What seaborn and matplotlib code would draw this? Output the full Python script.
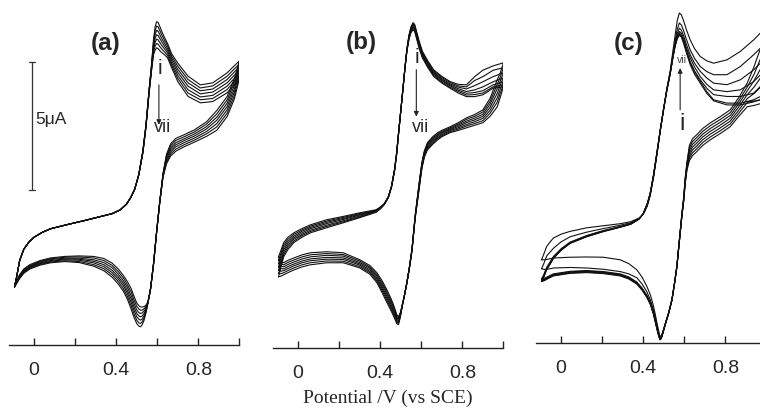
import numpy as np
import pandas as pd
import matplotlib
matplotlib.use("Agg")
import matplotlib.pyplot as plt
import seaborn as sns

sns.set_theme(style="white")
plt.rcParams['font.family'] = ['Liberation Sans', 'DejaVu Sans']

# cycle names, i -> vii (columns of every current table below)
cycles = ["i", "ii", "iii", "iv", "v", "vi", "vii"]

# ================= panel (a) : potential (V vs SCE) / current (uA) =================
a_fwd_E = [-0.095, -0.085, -0.07, -0.05, -0.025, 0.00, 0.04, 0.08, 0.16, 0.24, 0.32, 0.38,
           0.42, 0.45, 0.47, 0.49, 0.51, 0.53, 0.545, 0.56, 0.572, 0.582, 0.59, 0.597,
           0.604, 0.612, 0.622, 0.635, 0.65, 0.67, 0.70, 0.75, 0.81, 0.87, 0.94, 1.00]
a_fwd_I = [
    [-2.23] * 7, [-1.85] * 7, [-1.20] * 7, [-0.76] * 7, [-0.48] * 7, [-0.29] * 7,
    [-0.10] * 7, [0.04] * 7, [0.20] * 7, [0.35] * 7, [0.51] * 7, [0.63] * 7,
    [0.78] * 7, [1.00] * 7, [1.25] * 7, [1.58] * 7, [2.15] * 7,
    [3.10, 3.08, 3.07, 3.05, 3.03, 3.02, 3.00],
    [4.10, 4.08, 4.07, 4.05, 4.03, 4.02, 4.00],
    [5.45, 5.43, 5.41, 5.39, 5.36, 5.34, 5.32],
    [6.45, 6.41, 6.37, 6.33, 6.29, 6.25, 6.20],
    [7.45, 7.35, 7.25, 7.15, 7.05, 6.95, 6.85],
    [7.95, 7.80, 7.64, 7.49, 7.33, 7.18, 7.02],
    [8.13, 7.96, 7.79, 7.62, 7.45, 7.28, 7.11],
    [8.10, 7.93, 7.76, 7.59, 7.42, 7.25, 7.08],
    [7.95, 7.79, 7.63, 7.48, 7.32, 7.16, 7.00],
    [7.75, 7.61, 7.47, 7.34, 7.20, 7.06, 6.92],
    [7.52, 7.41, 7.29, 7.18, 7.07, 6.95, 6.84],
    [7.28, 7.19, 7.09, 7.00, 6.91, 6.81, 6.72],
    [6.88, 6.79, 6.70, 6.61, 6.51, 6.42, 6.33],
    [6.51, 6.39, 6.27, 6.15, 6.03, 5.91, 5.79],
    [6.00, 5.87, 5.74, 5.61, 5.47, 5.34, 5.21],
    [5.66, 5.54, 5.43, 5.31, 5.19, 5.08, 4.96],
    [5.74, 5.62, 5.50, 5.38, 5.25, 5.13, 5.01],
    [6.13, 6.00, 5.87, 5.74, 5.61, 5.48, 5.35],
    [6.60, 6.48, 6.37, 6.25, 6.13, 6.02, 5.90],
]
a_rev_E = [1.00, 0.975, 0.94, 0.89, 0.84, 0.78, 0.73, 0.69, 0.665, 0.645, 0.628, 0.612,
           0.597, 0.582, 0.567, 0.555, 0.545, 0.535, 0.526, 0.518, 0.51, 0.50, 0.488,
           0.473, 0.455, 0.435, 0.41, 0.38, 0.34, 0.29, 0.22, 0.15, 0.08, 0.03, -0.02,
           -0.05, -0.07, -0.085, -0.095]
a_rev_I = [
    [6.60, 6.48, 6.37, 6.25, 6.13, 6.02, 5.90],
    [5.90, 5.77, 5.63, 5.50, 5.37, 5.23, 5.10],
    [5.20, 5.07, 4.94, 4.81, 4.68, 4.55, 4.42],
    [4.66, 4.53, 4.40, 4.28, 4.15, 4.02, 3.89],
    [4.22, 4.13, 4.03, 3.94, 3.84, 3.75, 3.65],
    [3.90, 3.82, 3.74, 3.66, 3.58, 3.50, 3.42],
    [3.71, 3.63, 3.55, 3.48, 3.40, 3.32, 3.24],
    [3.57, 3.49, 3.40, 3.32, 3.24, 3.15, 3.07],
    [3.36, 3.28, 3.20, 3.12, 3.04, 2.96, 2.88],
    [2.95, 2.89, 2.83, 2.77, 2.70, 2.64, 2.58],
    [2.20, 2.18, 2.15, 2.13, 2.10, 2.08, 2.05],
    [1.10, 1.09, 1.08, 1.08, 1.07, 1.06, 1.05],
    [-0.05, -0.06, -0.07, -0.08, -0.08, -0.09, -0.10],
    [-1.30, -1.31, -1.32, -1.33, -1.33, -1.34, -1.35],
    [-2.30, -2.31, -2.32, -2.33, -2.33, -2.34, -2.35],
    [-2.85, -2.84, -2.83, -2.83, -2.82, -2.81, -2.80],
    [-3.25, -3.20, -3.15, -3.10, -3.05, -3.00, -2.95],
    [-3.55, -3.46, -3.37, -3.28, -3.18, -3.09, -3.00],
    [-3.72, -3.60, -3.49, -3.37, -3.25, -3.14, -3.02],
    [-3.79, -3.66, -3.53, -3.40, -3.27, -3.14, -3.01],
    [-3.76, -3.63, -3.49, -3.36, -3.23, -3.09, -2.96],
    [-3.66, -3.53, -3.39, -3.26, -3.13, -2.99, -2.86],
    [-3.45, -3.31, -3.17, -3.04, -2.90, -2.76, -2.62],
    [-3.10, -2.97, -2.83, -2.70, -2.57, -2.43, -2.30],
    [-2.72, -2.61, -2.49, -2.38, -2.26, -2.15, -2.03],
    [-2.40, -2.30, -2.19, -2.09, -1.99, -1.88, -1.78],
    [-2.12, -2.02, -1.92, -1.83, -1.73, -1.63, -1.53],
    [-1.85, -1.76, -1.67, -1.58, -1.48, -1.39, -1.30],
    [-1.60, -1.52, -1.44, -1.36, -1.28, -1.20, -1.12],
    [-1.42, -1.36, -1.29, -1.23, -1.17, -1.10, -1.04],
    [-1.28, -1.24, -1.19, -1.15, -1.11, -1.06, -1.02],
    [-1.24, -1.21, -1.17, -1.14, -1.11, -1.07, -1.04],
    [-1.29, -1.26, -1.23, -1.20, -1.16, -1.13, -1.10],
    [-1.38, -1.35, -1.32, -1.29, -1.26, -1.23, -1.20],
    [-1.53, -1.50, -1.47, -1.45, -1.42, -1.39, -1.36],
    [-1.70, -1.67, -1.64, -1.62, -1.59, -1.56, -1.53],
    [-1.90, -1.88, -1.85, -1.83, -1.80, -1.78, -1.75],
    [-2.10, -2.08, -2.07, -2.05, -2.03, -2.02, -2.00],
    [-2.23] * 7,
]

# ================= panel (b) =================
b_fwd_E = [-0.095, -0.085, -0.07, -0.05, -0.02, 0.02, 0.06, 0.14, 0.22, 0.30, 0.38, 0.40,
           0.42, 0.44, 0.455, 0.47, 0.48, 0.49, 0.50, 0.51, 0.52, 0.53, 0.54, 0.55, 0.56,
           0.568, 0.578, 0.59, 0.605, 0.63, 0.66, 0.70, 0.74, 0.78, 0.82, 0.86, 0.90, 0.95, 1.00]
b_fwd_I = [
    [-1.72, -1.59, -1.46, -1.33, -1.20, -1.07, -0.94],
    [-1.40, -1.29, -1.17, -1.06, -0.95, -0.83, -0.72],
    [-0.94, -0.85, -0.76, -0.67, -0.57, -0.48, -0.39],
    [-0.66, -0.58, -0.50, -0.42, -0.34, -0.26, -0.18],
    [-0.38, -0.32, -0.25, -0.19, -0.13, -0.06, 0.00],
    [-0.17, -0.11, -0.06, 0.00, 0.06, 0.11, 0.17],
    [0.00, 0.05, 0.10, 0.16, 0.21, 0.26, 0.31],
    [0.20, 0.25, 0.30, 0.36, 0.41, 0.46, 0.51],
    [0.39, 0.43, 0.47, 0.52, 0.56, 0.60, 0.64],
    [0.59, 0.62, 0.65, 0.69, 0.72, 0.75, 0.78],
    [0.80, 0.82, 0.83, 0.85, 0.87, 0.88, 0.90],
    [0.93, 0.94, 0.95, 0.97, 0.98, 0.99, 1.00],
    [1.10, 1.11, 1.11, 1.12, 1.13, 1.13, 1.14],
    [1.38, 1.39, 1.39, 1.40, 1.41, 1.41, 1.42],
    [1.78, 1.79, 1.79, 1.80, 1.81, 1.81, 1.82],
    [2.42, 2.43, 2.44, 2.45, 2.46, 2.47, 2.48],
    [3.05, 3.06, 3.07, 3.09, 3.10, 3.11, 3.12],
    [3.90, 3.91, 3.92, 3.93, 3.94, 3.95, 3.96],
    [4.72, 4.73, 4.73, 4.74, 4.75, 4.75, 4.76],
    [5.55] * 7,
    [6.42, 6.41, 6.40, 6.39, 6.38, 6.37, 6.36],
    [7.18, 7.16, 7.15, 7.13, 7.11, 7.10, 7.08],
    [7.72, 7.69, 7.66, 7.64, 7.61, 7.58, 7.55],
    [8.05, 8.01, 7.97, 7.94, 7.90, 7.86, 7.82],
    [8.21, 8.16, 8.12, 8.07, 8.02, 7.98, 7.93],
    [8.14, 8.09, 8.05, 8.00, 7.95, 7.91, 7.86],
    [7.84, 7.79, 7.75, 7.70, 7.65, 7.61, 7.56],
    [7.48, 7.43, 7.39, 7.34, 7.29, 7.25, 7.20],
    [7.10, 7.06, 7.01, 6.97, 6.93, 6.88, 6.84],
    [6.74, 6.70, 6.65, 6.61, 6.57, 6.52, 6.48],
    [6.37, 6.33, 6.28, 6.24, 6.20, 6.15, 6.11],
    [6.11, 6.07, 6.02, 5.98, 5.94, 5.89, 5.85],
    [5.91, 5.87, 5.82, 5.78, 5.74, 5.69, 5.65],
    [5.80, 5.74, 5.69, 5.63, 5.57, 5.52, 5.46],
    [5.78, 5.70, 5.62, 5.52, 5.45, 5.38, 5.32],
    [6.10, 5.95, 5.75, 5.58, 5.48, 5.40, 5.32],
    [6.35, 6.10, 5.90, 5.70, 5.55, 5.46, 5.39],
    [6.52, 6.35, 6.10, 5.90, 5.78, 5.70, 5.65],
    [6.64, 6.45, 6.25, 6.05, 5.90, 5.78, 5.70],
]
b_rev_E = [1.00, 0.985, 0.97, 0.935, 0.90, 0.86, 0.82, 0.78, 0.74, 0.70, 0.68, 0.655,
           0.63, 0.615, 0.603, 0.592, 0.582, 0.57, 0.555, 0.542, 0.53, 0.518, 0.507,
           0.498, 0.489, 0.481, 0.472, 0.462, 0.45, 0.433, 0.41, 0.384, 0.35, 0.30, 0.22,
           0.14, 0.06, 0.02, -0.02, -0.05, -0.07, -0.085, -0.095]
b_rev_I = [
    [6.64, 6.45, 6.25, 6.05, 5.90, 5.78, 5.70],
    [6.25, 6.09, 5.93, 5.78, 5.62, 5.46, 5.30],
    [5.98, 5.80, 5.63, 5.45, 5.27, 5.10, 4.92],
    [5.25, 5.13, 5.02, 4.90, 4.78, 4.67, 4.55],
    [4.80, 4.72, 4.63, 4.55, 4.47, 4.38, 4.30],
    [4.62, 4.55, 4.48, 4.41, 4.34, 4.27, 4.20],
    [4.49, 4.43, 4.36, 4.30, 4.23, 4.17, 4.10],
    [4.30, 4.25, 4.20, 4.15, 4.10, 4.05, 4.00],
    [4.14, 4.10, 4.06, 4.03, 3.99, 3.95, 3.91],
    [4.00, 3.96, 3.92, 3.88, 3.83, 3.79, 3.75],
    [3.91, 3.86, 3.82, 3.77, 3.72, 3.68, 3.63],
    [3.75, 3.70, 3.65, 3.60, 3.55, 3.50, 3.45],
    [3.52, 3.47, 3.43, 3.38, 3.33, 3.29, 3.24],
    [3.20, 3.16, 3.12, 3.08, 3.03, 2.99, 2.95],
    [2.75, 2.71, 2.67, 2.63, 2.58, 2.54, 2.50],
    [2.10, 2.06, 2.02, 1.98, 1.93, 1.89, 1.85],
    [1.45, 1.42, 1.38, 1.35, 1.32, 1.28, 1.25],
    [0.65, 0.63, 0.62, 0.60, 0.58, 0.57, 0.55],
    [-0.62, -0.63, -0.65, -0.66, -0.67, -0.69, -0.70],
    [-1.35, -1.36, -1.37, -1.38, -1.38, -1.39, -1.40],
    [-1.93, -1.94, -1.94, -1.95, -1.96, -1.96, -1.97],
    [-2.45] * 7,
    [-2.88, -2.87, -2.87, -2.86, -2.85, -2.85, -2.84],
    [-3.30, -3.27, -3.24, -3.21, -3.18, -3.15, -3.12],
    [-3.59, -3.54, -3.49, -3.44, -3.38, -3.33, -3.28],
    [-3.55, -3.49, -3.43, -3.38, -3.32, -3.26, -3.20],
    [-3.38, -3.31, -3.25, -3.18, -3.11, -3.05, -2.98],
    [-3.20, -3.13, -3.05, -2.98, -2.90, -2.83, -2.75],
    [-3.00, -2.92, -2.84, -2.76, -2.68, -2.60, -2.52],
    [-2.73, -2.65, -2.56, -2.48, -2.40, -2.31, -2.23],
    [-2.35, -2.27, -2.19, -2.12, -2.04, -1.96, -1.88],
    [-1.95, -1.89, -1.82, -1.76, -1.69, -1.63, -1.56],
    [-1.62, -1.56, -1.51, -1.45, -1.39, -1.34, -1.28],
    [-1.37, -1.32, -1.26, -1.21, -1.16, -1.10, -1.05],
    [-1.17, -1.11, -1.04, -0.98, -0.91, -0.85, -0.78],
    [-1.17, -1.10, -1.03, -0.96, -0.88, -0.81, -0.74],
    [-1.25, -1.17, -1.09, -1.02, -0.94, -0.86, -0.78],
    [-1.33, -1.25, -1.17, -1.10, -1.02, -0.94, -0.86],
    [-1.45, -1.37, -1.29, -1.22, -1.14, -1.06, -0.98],
    [-1.56, -1.48, -1.40, -1.32, -1.24, -1.16, -1.08],
    [-1.64, -1.56, -1.48, -1.41, -1.33, -1.25, -1.17],
    [-1.70, -1.60, -1.50, -1.40, -1.30, -1.20, -1.10],
    [-1.72, -1.59, -1.46, -1.33, -1.20, -1.07, -0.94],
]

# ================= panel (c) =================
c_fwd_E = [-0.095, -0.085, -0.07, -0.05, -0.037, 0.00, 0.044, 0.125, 0.206, 0.288, 0.34,
           0.38, 0.40, 0.42, 0.434, 0.45, 0.467, 0.483, 0.499, 0.515, 0.532, 0.545, 0.556,
           0.566, 0.576, 0.586, 0.597, 0.61, 0.629, 0.65, 0.678, 0.71, 0.743, 0.808, 0.873,
           0.938, 0.971, 1.00]
c_fwd_I = [
    [-2.10, -2.08, -2.06, -2.03, -2.00, -1.60, -1.25],
    [-1.95, -1.93, -1.91, -1.88, -1.85, -1.42, -1.05],
    [-1.64, -1.62, -1.60, -1.58, -1.55, -1.10, -0.73],
    [-1.38, -1.36, -1.34, -1.32, -1.29, -0.92, -0.52],
    [-1.20, -1.18, -1.17, -1.15, -1.12, -0.80, -0.40],
    [-0.88, -0.87, -0.86, -0.84, -0.82, -0.55, -0.25],
    [-0.61, -0.60, -0.59, -0.58, -0.56, -0.35, -0.14],
    [-0.35, -0.34, -0.33, -0.32, -0.30, -0.17, 0.00],
    [-0.15, -0.14, -0.13, -0.12, -0.11, -0.03, 0.08],
    [0.02, 0.03, 0.03, 0.04, 0.05, 0.10, 0.16],
    [0.14, 0.15, 0.15, 0.16, 0.16, 0.20, 0.24],
    [0.34, 0.34, 0.35, 0.35, 0.36, 0.37, 0.38],
    [0.55, 0.55, 0.55, 0.55, 0.54, 0.53, 0.52],
    [0.95, 0.94, 0.93, 0.92, 0.90, 0.88, 0.85],
    [1.35, 1.34, 1.33, 1.32, 1.30, 1.28, 1.25],
    [2.05, 2.04, 2.03, 2.02, 2.00, 1.98, 1.95],
    [2.95, 2.94, 2.93, 2.92, 2.90, 2.88, 2.85],
    [3.80] * 7,
    [4.60, 4.61, 4.61, 4.62, 4.62, 4.62, 4.62],
    [5.35, 5.36, 5.37, 5.38, 5.39, 5.40, 5.42],
    [6.03, 6.04, 6.05, 6.06, 6.08, 6.10, 6.15],
    [6.65, 6.67, 6.69, 6.71, 6.74, 6.80, 6.92],
    [7.10, 7.13, 7.16, 7.19, 7.24, 7.33, 7.55],
    [7.38, 7.42, 7.46, 7.51, 7.60, 7.76, 8.10],
    [7.52, 7.56, 7.61, 7.67, 7.80, 8.00, 8.39],
    [7.45, 7.49, 7.53, 7.60, 7.72, 7.92, 8.32],
    [7.20, 7.25, 7.30, 7.38, 7.50, 7.70, 8.08],
    [6.85, 6.90, 6.95, 7.04, 7.17, 7.37, 7.75],
    [6.37, 6.45, 6.48, 6.64, 6.76, 6.95, 7.34],
    [6.00, 6.08, 6.13, 6.28, 6.43, 6.62, 7.00],
    [5.65, 5.72, 5.78, 5.91, 6.11, 6.30, 6.69],
    [5.25, 5.32, 5.45, 5.60, 5.85, 6.10, 6.52],
    [4.96, 5.00, 5.20, 5.39, 5.65, 5.98, 6.43],
    [4.80, 4.87, 5.13, 5.32, 5.59, 5.98, 6.56],
    [4.80, 4.87, 5.13, 5.39, 5.78, 6.30, 6.89],
    [4.92, 5.00, 5.26, 5.71, 6.17, 6.76, 7.34],
    [5.00, 5.13, 5.52, 5.98, 6.43, 7.02, 7.61],
    [5.10, 5.30, 5.75, 6.20, 6.65, 7.25, 7.85],
]
c_rev_E = [1.00, 0.985, 0.971, 0.94, 0.907, 0.865, 0.824, 0.775, 0.727, 0.69, 0.66, 0.64,
           0.625, 0.613, 0.605, 0.597, 0.588, 0.58, 0.572, 0.564, 0.552, 0.54, 0.525,
           0.507, 0.495, 0.488, 0.482, 0.476, 0.468, 0.458, 0.45, 0.435, 0.418, 0.395,
           0.369, 0.33, 0.288, 0.206, 0.125, 0.044, -0.037, -0.06, -0.08, -0.095]
c_rev_I = [
    [5.10, 5.30, 5.75, 6.20, 6.65, 7.25, 7.85],
    [4.95, 5.10, 5.60, 6.00, 6.40, 6.90, 7.40],
    [4.85, 5.00, 5.50, 5.85, 6.20, 6.60, 7.00],
    [4.78, 4.95, 5.25, 5.50, 5.75, 6.00, 6.30],
    [4.73, 4.90, 5.05, 5.20, 5.35, 5.50, 5.66],
    [4.35, 4.47, 4.59, 4.72, 4.84, 4.96, 5.08],
    [3.95, 4.06, 4.17, 4.28, 4.39, 4.50, 4.61],
    [3.68, 3.79, 3.90, 4.01, 4.12, 4.23, 4.34],
    [3.44, 3.55, 3.66, 3.77, 3.88, 3.99, 4.10],
    [3.22, 3.33, 3.44, 3.55, 3.66, 3.77, 3.88],
    [2.97, 3.08, 3.19, 3.30, 3.41, 3.52, 3.63],
    [2.82, 2.93, 3.04, 3.15, 3.26, 3.37, 3.48],
    [2.62, 2.72, 2.82, 2.92, 3.02, 3.12, 3.22],
    [2.25, 2.30, 2.35, 2.40, 2.45, 2.50, 2.55],
    [1.75, 1.79, 1.83, 1.87, 1.90, 1.94, 1.98],
    [1.02, 1.05, 1.07, 1.09, 1.11, 1.15, 1.18],
    [0.40, 0.42, 0.44, 0.46, 0.48, 0.50, 0.52],
    [-0.23, -0.22, -0.21, -0.20, -0.19, -0.17, -0.15],
    [-0.88, -0.87, -0.86, -0.85, -0.84, -0.83, -0.82],
    [-1.54, -1.53, -1.53, -1.52, -1.52, -1.51, -1.50],
    [-2.22, -2.21, -2.21, -2.20, -2.20, -2.19, -2.18],
    [-2.83, -2.82, -2.82, -2.81, -2.81, -2.80, -2.80],
    [-3.32, -3.31, -3.31, -3.30, -3.30, -3.29, -3.28],
    [-3.80, -3.79, -3.79, -3.78, -3.78, -3.77, -3.75],
    [-4.15, -4.14, -4.13, -4.12, -4.11, -4.10, -4.08],
    [-4.33, -4.32, -4.31, -4.30, -4.29, -4.26, -4.22],
    [-4.38, -4.36, -4.34, -4.32, -4.30, -4.28, -4.25],
    [-4.25, -4.23, -4.21, -4.19, -4.17, -4.12, -4.05],
    [-4.00, -3.98, -3.96, -3.94, -3.92, -3.85, -3.75],
    [-3.65, -3.63, -3.61, -3.59, -3.57, -3.48, -3.35],
    [-3.38, -3.36, -3.34, -3.32, -3.30, -3.20, -3.05],
    [-3.00, -2.98, -2.96, -2.94, -2.92, -2.82, -2.62],
    [-2.72, -2.70, -2.68, -2.66, -2.64, -2.50, -2.29],
    [-2.44, -2.42, -2.40, -2.38, -2.36, -2.20, -1.93],
    [-2.20, -2.18, -2.16, -2.14, -2.12, -1.95, -1.64],
    [-2.00, -1.98, -1.96, -1.94, -1.92, -1.80, -1.40],
    [-1.88, -1.86, -1.84, -1.82, -1.80, -1.71, -1.25],
    [-1.79, -1.77, -1.75, -1.73, -1.71, -1.62, -1.15],
    [-1.75, -1.73, -1.71, -1.69, -1.67, -1.57, -1.14],
    [-1.78, -1.76, -1.74, -1.72, -1.70, -1.55, -1.15],
    [-1.88, -1.86, -1.84, -1.82, -1.80, -1.57, -1.18],
    [-1.97, -1.95, -1.93, -1.91, -1.89, -1.61, -1.22],
    [-2.06, -2.04, -2.02, -2.00, -1.97, -1.63, -1.25],
    [-2.10, -2.08, -2.06, -2.03, -2.00, -1.60, -1.25],
]

x_ticks = [0, 0.2, 0.4, 0.6, 0.8, 1.0]
x_ticklabels = ["0", "", "0.4", "", "0.8", ""]
scale_bar_uA = 5


def loop_frame(E_fwd, I_fwd, E_rev, I_rev):
    # one closed CV loop per cycle: forward sweep then reverse sweep
    I_fwd = np.array(I_fwd).T
    I_rev = np.array(I_rev).T
    assert I_fwd.shape == (7, len(E_fwd)) and I_rev.shape == (7, len(E_rev))
    parts = []
    for k, name in enumerate(cycles):
        E = list(E_fwd) + list(E_rev)
        I = list(I_fwd[k]) + list(I_rev[k])
        parts.append(pd.DataFrame({"cycle": name, "step": range(len(E)), "E": E, "I": I}))
    return pd.concat(parts, ignore_index=True)


W, H = 760, 409
fig = plt.figure(figsize=(W / 100, H / 100), dpi=100)

# left edge (px) and axis-line height (px) of each panel
panel_pos = [(9.4, 345), (273.4, 348), (536.4, 343)]
panel_data = [(a_fwd_E, a_fwd_I, a_rev_E, a_rev_I),
              (b_fwd_E, b_fwd_I, b_rev_E, b_rev_I),
              (c_fwd_E, c_fwd_I, c_rev_E, c_rev_I)]
panel_labels = ["(a)", "(b)", "(c)"]
label_xy = [(0.351, 7.27), (0.307, 7.42), (0.327, 7.19)]

axes = []
for (left, yax), data, lab, lxy in zip(panel_pos, panel_data, panel_labels, label_xy):
    ax = fig.add_axes([left / W, (H - yax) / H, 230 / W, 345.6 / H])
    ax.patch.set_alpha(0)
    df = loop_frame(*data)
    sns.lineplot(data=df, x="E", y="I", units="cycle", estimator=None, sort=False,
                 color="#111111", linewidth=0.8, legend=False, ax=ax)
    for line in ax.lines:
        line.set_solid_joinstyle("round")
    ax.set_xlim(-0.12, 1.0)
    ax.set_ylim(-4.5, 9.0)
    for s in ["left", "right", "top"]:
        ax.spines[s].set_visible(False)
    ax.spines["bottom"].set_color("#222222")
    ax.spines["bottom"].set_linewidth(1.0)
    ax.set_xticks(x_ticks)
    ax.set_xticklabels(x_ticklabels)
    ax.set_yticks([])
    ax.tick_params(axis="x", direction="in", length=5, width=1, pad=12,
                   labelsize=14, color="#222222", bottom=True)
    ax.set_xlabel("")
    ax.set_ylabel("")
    ax.text(lxy[0], lxy[1], lab, ha="center", va="center", fontsize=17.5, fontweight="bold")
    axes.append(ax)

arrow_kw = dict(arrowstyle="-|>", lw=0.8, color="#222222", mutation_scale=7, shrinkA=0, shrinkB=0)

# (a) scale bar and cycle arrow
ax = axes[0]
ax.plot([-0.011, -0.011], [1.56, 1.56 + scale_bar_uA], color="#333333", lw=0.9)
for yy in [1.56, 1.56 + scale_bar_uA]:
    ax.plot([-0.026, 0.004], [yy, yy], color="#333333", lw=0.9)
ax.text(0.008, 4.3, "5\u03bcA", ha="left", va="center", fontsize=12.5)
ax.annotate("", xy=(0.608, 4.10), xytext=(0.608, 5.66), arrowprops=arrow_kw)
ax.text(0.612, 6.31, "i", ha="center", va="center", fontsize=15)
ax.text(0.627, 3.98, "vii", ha="center", va="center", fontsize=13)

# (b)
ax = axes[1]
ax.annotate("", xy=(0.576, 4.54), xytext=(0.576, 6.37), arrowprops=arrow_kw)
ax.text(0.58, 6.84, "i", ha="center", va="center", fontsize=15)
ax.text(0.598, 4.13, "vii", ha="center", va="center", fontsize=13)

# (c)
ax = axes[2]
ax.annotate("", xy=(0.58, 6.24), xytext=(0.58, 4.61), arrowprops=arrow_kw)
ax.text(0.59, 6.56, "vii", ha="center", va="center", fontsize=7.5, color="#444444")
ax.text(0.589, 4.06, "i", ha="center", va="center", fontsize=17)

fig.text(388 / W, 1 - 398 / H, "Potential /V (vs SCE)", ha="center", va="center",
         fontsize=14, family=["Liberation Serif", "DejaVu Serif"])

fig.savefig("out.png", dpi=100, facecolor="white")
